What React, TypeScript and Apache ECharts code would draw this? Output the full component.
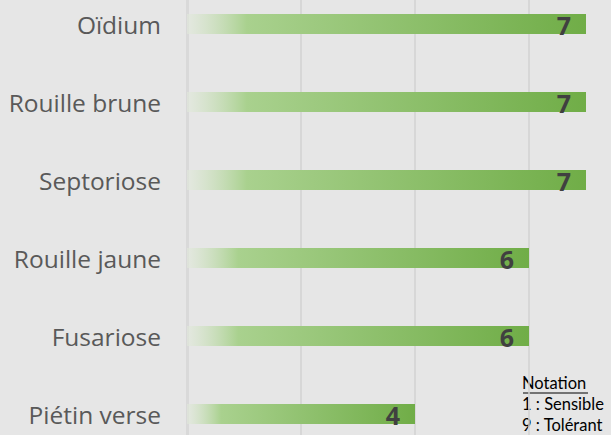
import React, { useEffect, useRef } from "react";
import * as echarts from "echarts";

const categories = ["Oïdium", "Rouille brune", "Septoriose", "Rouille jaune", "Fusariose", "Piétin verse"];
const values = [7, 7, 7, 6, 6, 4];
const noteLines = ["Notation", "1 : Sensible", "9 : Tolérant"];

const OFF_Y = 15;

export default function App() {
  const ref = useRef<HTMLDivElement>(null);
  useEffect(() => {
    const chart = echarts.init(ref.current!, undefined, { renderer: "svg" });
    const font = "'Open Sans', 'Noto Sans', sans-serif";
    const noteFont = "Lato, 'Noto Sans', sans-serif";
    chart.setOption({
      animation: false,
      backgroundColor: "#E6E6E6",
      grid: { left: 187, top: 0, width: 456, height: 468, containLabel: false },
      xAxis: {
        type: "value",
        min: 0,
        max: 8,
        interval: 2,
        axisLabel: { show: false },
        axisLine: { show: false },
        axisTick: { show: false },
        splitLine: { show: true, lineStyle: { color: "#D2D2D2", width: 1.5 } },
      },
      yAxis: {
        type: "category",
        data: categories,
        inverse: true,
        axisTick: { show: false },
        axisLine: { show: true, lineStyle: { color: "#D9D9D9", width: 3 } },
        axisLabel: { color: "#595959", fontSize: 24.5, fontFamily: font, margin: 26 },
      },
      series: [
        {
          type: "bar",
          data: values,
          barWidth: 20,
          itemStyle: {
            color: new echarts.graphic.LinearGradient(0, 0, 1, 0, [
              { offset: 0, color: "rgba(226,233,220,0.6)" },
              { offset: 0.15, color: "#A9D18E" },
              { offset: 1, color: "#70AD47" },
            ]),
          },
          label: {
            show: true,
            position: "insideRight",
            distance: 15,
            offset: [0, 1],
            color: "#404040",
            fontWeight: "bold",
            fontSize: 25,
            fontFamily: font,
          },
        },
      ],
      graphic: [
        {
          type: "text",
          left: 522,
          top: 374 + OFF_Y,
          style: { text: noteLines[0], fontSize: 16.5, fontFamily: noteFont, fill: "#000" },
        },
        {
          type: "line",
          shape: { x1: 523, y1: 393 + OFF_Y, x2: 588, y2: 393 + OFF_Y },
          style: { stroke: "#000", lineWidth: 1 },
        },
        {
          type: "text",
          left: 522,
          top: 395 + OFF_Y,
          style: { text: noteLines[1], fontSize: 16.5, fontFamily: noteFont, fill: "#000" },
        },
        {
          type: "text",
          left: 522,
          top: 416 + OFF_Y,
          style: { text: noteLines[2], fontSize: 16.5, fontFamily: noteFont, fill: "#000" },
        },
      ],
    });
    return () => chart.dispose();
  }, []);
  return (
    <div style={{ position: "fixed", left: 0, top: 0, width: 611, height: 435, overflow: "hidden", background: "#E6E6E6" }}>
      <div ref={ref} style={{ position: "absolute", left: 0, top: -OFF_Y, width: 660, height: 468 }} />
    </div>
  );
}
